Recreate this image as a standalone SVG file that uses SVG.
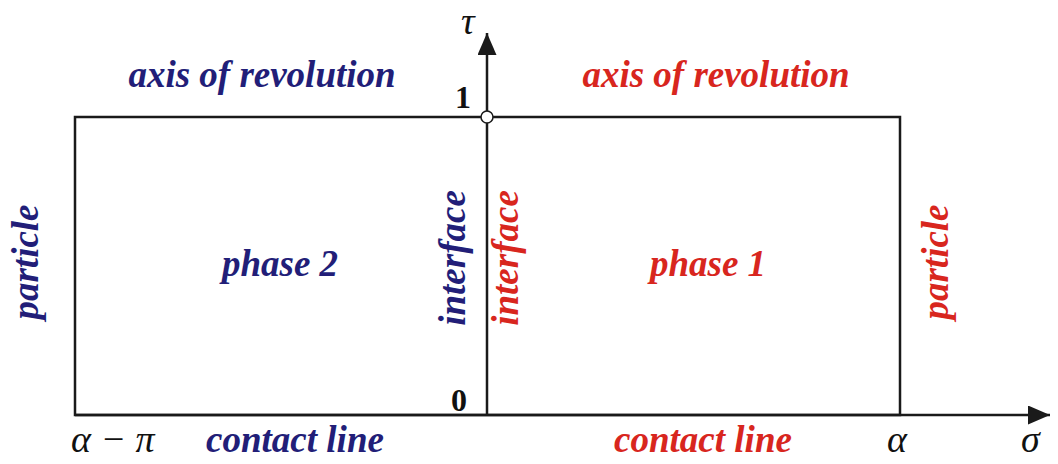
<svg xmlns="http://www.w3.org/2000/svg" width="1058" height="464" viewBox="0 0 1058 464">
<defs>
<style>
.lbl{font-family:"Liberation Serif","Times New Roman",serif;font-weight:bold;font-style:italic;font-size:37px}
.b{fill:#221e78}
.r{fill:#d8261e}
.math{font-family:"Liberation Serif","Times New Roman",serif;font-style:italic;font-size:38px;fill:#111}
.num{font-family:"Liberation Serif","Times New Roman",serif;font-weight:bold;font-size:32px;fill:#111}
.ln{stroke:#1a1a1a;stroke-width:2.5;fill:none}
</style>
<marker id="arr" viewBox="0 0 22 19" refX="22" refY="9.5" markerWidth="22" markerHeight="19" markerUnits="userSpaceOnUse" orient="auto">
<path d="M0,0 L22,9.5 L0,19 Z" fill="#1a1a1a"/>
</marker>
</defs>
<rect width="1058" height="464" fill="#fff"/>
<g id="connectors">
<rect class="ln" x="75" y="117" width="825" height="298"/>
<line class="ln" x1="75" y1="415" x2="1050" y2="415" marker-end="url(#arr)"/>
<line class="ln" x1="487" y1="415" x2="487" y2="33" marker-end="url(#arr)"/>
</g>
<g id="origin-top">
<circle cx="487" cy="117" r="6" fill="#fff" stroke="#1a1a1a" stroke-width="1.5"/>
</g>
<g id="axis-labels">
<text class="math" x="461" y="34">τ</text>
<text class="math" x="1021" y="452">σ</text>
<text class="math" x="887" y="452">α</text>
<text class="math" x="71" y="452">α − π</text>
<text class="num" x="455" y="108">1</text>
<text class="num" x="451" y="411">0</text>
</g>
<g id="phase2">
<text class="lbl b" x="262" y="87" text-anchor="middle">axis of revolution</text>
<text class="lbl b" x="280" y="276" text-anchor="middle">phase 2</text>
<text class="lbl b" x="295" y="452" text-anchor="middle">contact line</text>
<text class="lbl b" transform="translate(38,262) rotate(-90)" text-anchor="middle">particle</text>
<text class="lbl b" transform="translate(465,258) rotate(-90)" text-anchor="middle">interface</text>
</g>
<g id="phase1">
<text class="lbl r" x="716" y="87" text-anchor="middle">axis of revolution</text>
<text class="lbl r" x="708" y="276" text-anchor="middle">phase 1</text>
<text class="lbl r" x="703" y="452" text-anchor="middle">contact line</text>
<text class="lbl r" transform="translate(948,262) rotate(-90)" text-anchor="middle">particle</text>
<text class="lbl r" transform="translate(518,258) rotate(-90)" text-anchor="middle">interface</text>
</g>
</svg>
